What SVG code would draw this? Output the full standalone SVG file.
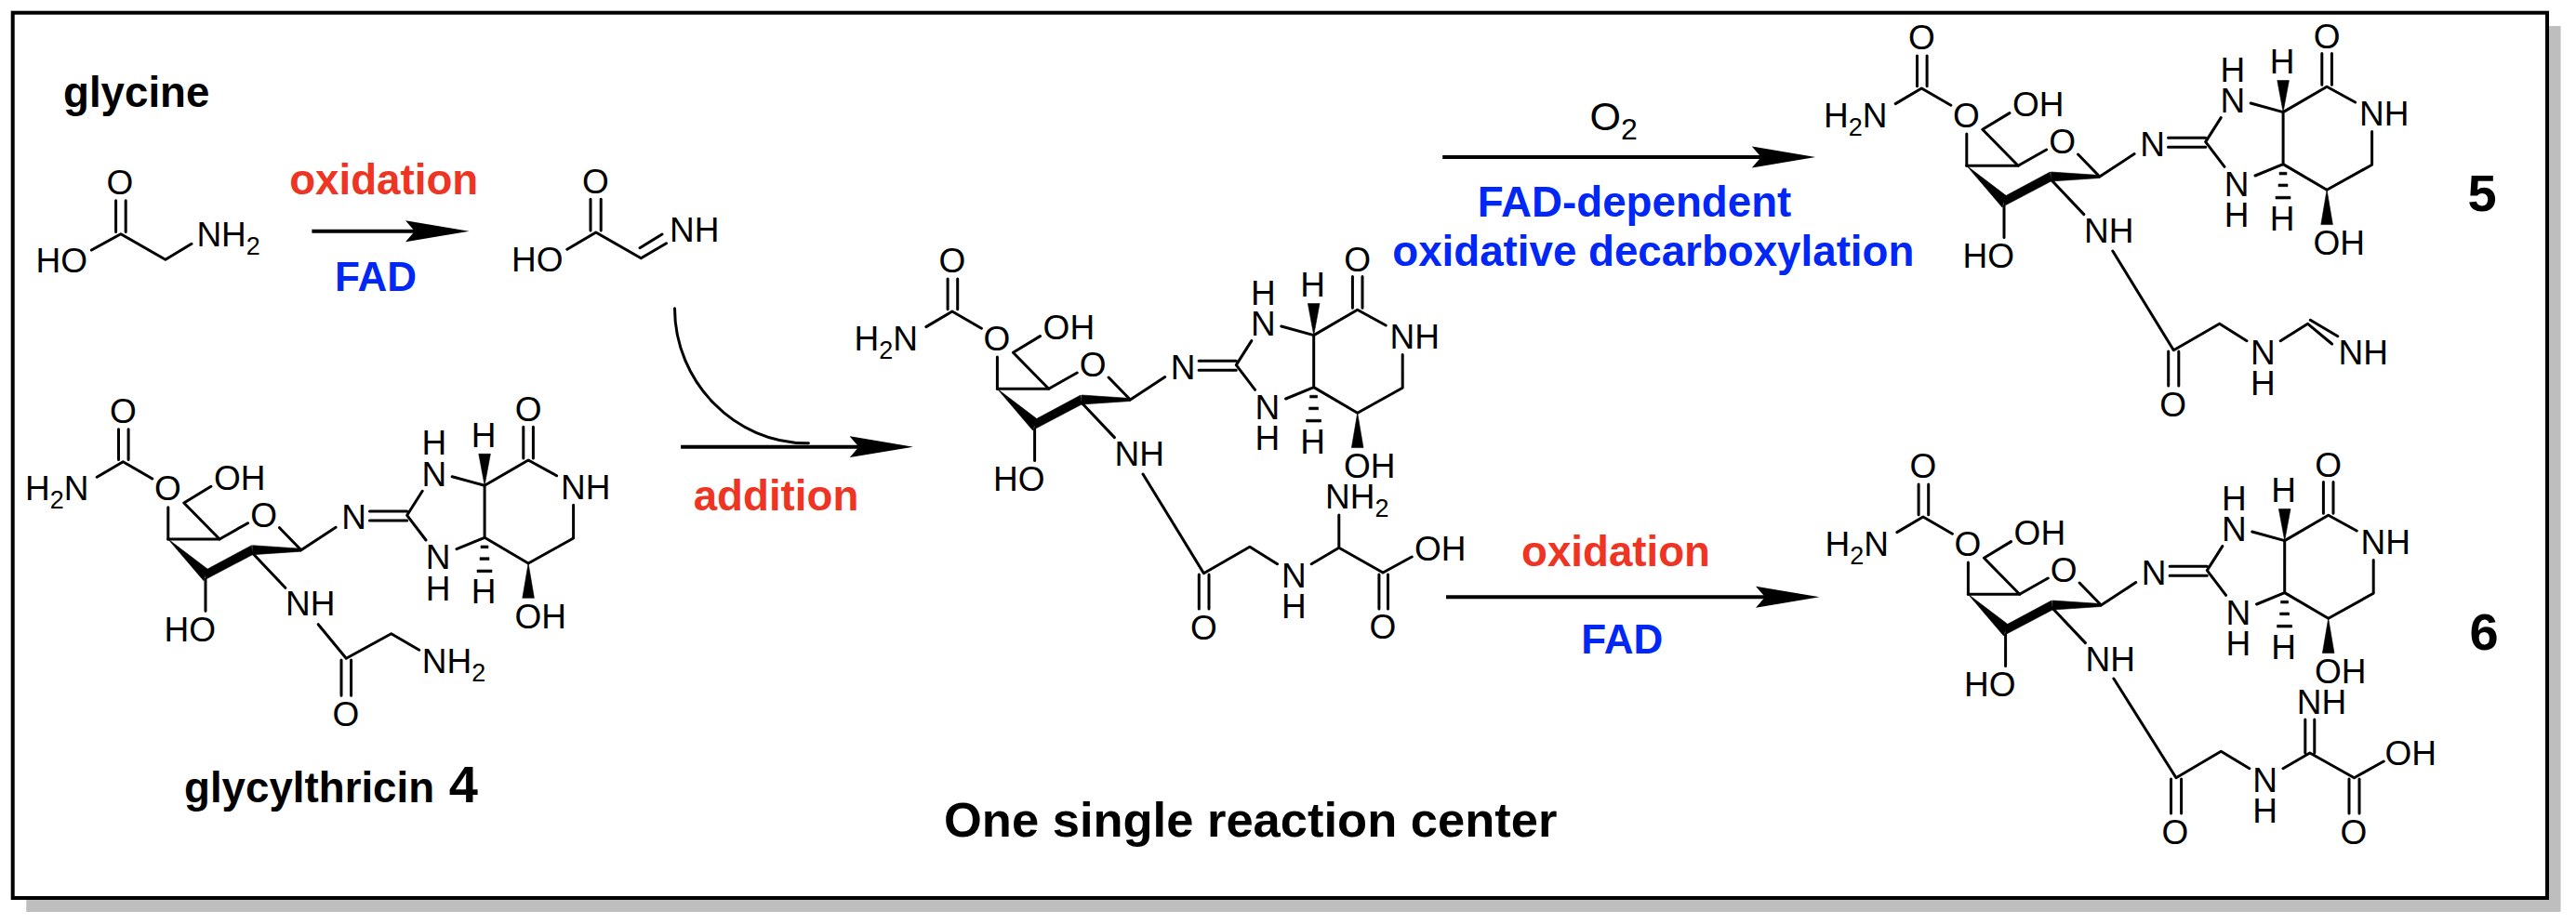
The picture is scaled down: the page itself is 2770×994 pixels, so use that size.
<svg xmlns="http://www.w3.org/2000/svg" xmlns:xlink="http://www.w3.org/1999/xlink" width="2770" height="994" viewBox="0 0 2770 994">
<style>
text{font-family:"Liberation Sans",Arial,sans-serif;fill:#000}
.a{font-size:37px}
.m{text-anchor:middle}
.s{font-size:27px}
.l{font-size:45.700px;font-weight:700}
.f{font-size:44px}
.r{fill:#ee3524}
.u{fill:#0027f5}
.n{font-size:56px;font-weight:700}
.b{fill:none;stroke:#000;stroke-width:3;stroke-linecap:round;stroke-linejoin:round}
.w{fill:#000;stroke:#000;stroke-width:.6;stroke-linejoin:round}
.arrow{fill:none;stroke:#000;stroke-width:4;marker-end:url(#head)}
</style>
<defs>
<marker id="head" markerUnits="userSpaceOnUse" markerWidth="70" markerHeight="24" refX="10" refY="12" orient="auto" viewBox="0 0 70 24">
<path d="M0 .5L10 12L0 23.5L68.500 12Z" fill="#000"/>
</marker>
<g id="core">
<path class="b" d="M127.500 461.700V494.500M138.100 461.700V494.500M104.200 513.300L132.300 496.700L163.800 515M180.800 545.700V580M226.900 523.300L197.800 541L236.100 580L266.600 562.700M300.500 567.700L323.800 591.700L361.100 567.300M221 623.300V657.300M271.500 595L306.800 632.300M397.500 550H437.700M397.500 560H437.700M454.200 528.300L437.700 554.300L458 581M486.200 512.700L521.100 522.300V578.300L491 590.700M521.100 522.300L568.100 495L598.600 511.700M562.800 459.300V493M573.400 459.300V493M616.600 543.300V579L568.100 606L521.100 578.300"/>
<path class="b" d="M180.800 580H236.100" stroke-width="4"/>
<path class="w" d="M323.800 590.200L271.500 586.700V596.700L323.800 593.200ZM221 613.300L270.500 586.700L271.500 596.700L221 623.300ZM180.800 580L223 612L219 624.700ZM521.100 522.300L514.800 488.300H527.400ZM568.100 606L561.800 643.300H574.400ZM517 587H525V589.700H517ZM516 599.700H526V602.400H516ZM513 613H529V615.700H513Z"/>
</g>
</defs>
<rect id="shadow" x="28.300" y="28" width="2725.200" height="953" fill="#bebebe"/>
<rect id="frame" x="13.700" y="13.700" width="2725.300" height="952.300" fill="#fff" stroke="#000" stroke-width="4"/>
<g id="connectors">
<path class="arrow" d="M335.400 248.700H446"/>
<path class="arrow" d="M732.100 480.700H923.500"/>
<path class="arrow" d="M1551.200 169H1893.700"/>
<path class="arrow" d="M1555 642.300H1898"/>
<path class="b" d="M725.500 331.700C725.500 410 790 478 869.400 476.700"/>
</g>
<g id="labels">
<text class="l" x="68" y="115">glycine</text>
<text class="l r m" x="412.700" y="209.300">oxidation</text>
<text class="l u m f" x="404" y="313.300">FAD</text>
<text class="l r m" x="834.500" y="549.300">addition</text>
<text x="1709.500" y="140" style="font-size:43px">O<tspan dy="10" style="font-size:32px">2</tspan></text>
<text class="l u m" x="1757.500" y="232.700">FAD-dependent</text>
<text class="l u m" x="1777.800" y="285.700">oxidative decarboxylation</text>
<text class="l r m" x="1737.500" y="609.300">oxidation</text>
<text class="l u m f" x="1744.300" y="702.700">FAD</text>
<text class="l" x="198" y="863">glycylthricin</text>
<text class="n m" x="498.300" y="863.300">4</text>
<text class="n m" x="2669" y="226.700">5</text>
<text class="n m" x="2671" y="699.300">6</text>
<text x="1015" y="900" style="font-size:52.500px;font-weight:700">One single reaction center</text>
</g>
<g id="glycine-molecule">
<path class="b" d="M124.600 215.700V249.500M135.200 215.700V249.500M98.400 269L129.900 251.700L177.900 279.300L206 262.300"/>
<text class="a m" x="128.900" y="209">O</text>
<text class="a" x="38.500" y="292.700">HO</text>
<text class="a" x="211.400" y="265">NH<tspan class="s" dy="9">2</tspan></text>
</g>
<g id="imine-molecule">
<path class="b" d="M635 214.300V248M646.200 214.300V248M609.800 268.300L640.800 250L689.300 277.700L716.500 261.700M688 266.700L712 252"/>
<text class="a m" x="640.300" y="207.700">O</text>
<text class="a" x="550" y="291.700">HO</text>
<text class="a" x="720" y="260">NH</text>
</g>
<g id="glycylthricin-4">
<use href="#core" xlink:href="#core"/>
<text class="a m" x="132.300" y="455">O</text>
<text class="a" x="27" y="538.300">H<tspan class="s" dy="9">2</tspan><tspan dy="-9">N</tspan></text>
<text class="a m" x="180.300" y="538.300">O</text>
<text class="a" x="230" y="526.700">OH</text>
<text class="a m" x="283.600" y="566.700">O</text>
<text class="a" x="176.500" y="690">HO</text>
<text class="a" x="307" y="662.300">NH</text>
<text class="a m" x="380.500" y="569.300">N</text>
<text class="a m" x="466.800" y="522.700">N</text>
<text class="a m" x="466.800" y="489.300">H</text>
<text class="a m" x="471.200" y="612.300">N</text>
<text class="a m" x="471.200" y="645.700">H</text>
<text class="a m" x="520" y="481">H</text>
<text class="a m" x="520" y="649.300">H</text>
<text class="a m" x="568.100" y="453.300">O</text>
<text class="a" x="603" y="536.700">NH</text>
<text class="a" x="553.400" y="676">OH</text>
<path class="b" d="M342.200 671.700L372.300 708.300L420.700 681.700L450.800 699.300M367 710V748.300M377.600 710V748.300"/>
<text class="a m" x="371.800" y="781">O</text>
<text class="a" x="453.700" y="724.300">NH<tspan class="s" dy="9">2</tspan></text>
</g>
<g id="intermediate">
<g transform="translate(891.600 -161.700)">
<use href="#core" xlink:href="#core"/>
<text class="a m" x="132.300" y="455">O</text>
<text class="a" x="27" y="538.300">H<tspan class="s" dy="9">2</tspan><tspan dy="-9">N</tspan></text>
<text class="a m" x="180.300" y="538.300">O</text>
<text class="a" x="230" y="526.700">OH</text>
<text class="a m" x="283.600" y="566.700">O</text>
<text class="a" x="176.500" y="690">HO</text>
<text class="a" x="307" y="662.300">NH</text>
<text class="a m" x="380.500" y="569.300">N</text>
<text class="a m" x="466.800" y="522.700">N</text>
<text class="a m" x="466.800" y="489.300">H</text>
<text class="a m" x="471.200" y="612.300">N</text>
<text class="a m" x="471.200" y="645.700">H</text>
<text class="a m" x="520" y="481">H</text>
<text class="a m" x="520" y="649.300">H</text>
<text class="a m" x="568.100" y="453.300">O</text>
<text class="a" x="603" y="536.700">NH</text>
<text class="a" x="553.400" y="676">OH</text>
</g>
<path class="b" d="M1229 510L1294.400 616.700L1343.900 588.300L1373.500 606.700M1289.300 618V655M1300 618V655M1410.200 606.700L1439.800 589.300V554M1439.800 589.300L1487.100 616L1518.200 599M1482.900 618V655M1492.500 618V655"/>
<text class="a m" x="1294.400" y="687.700">O</text>
<text class="a m" x="1391.300" y="631.700">N</text>
<text class="a m" x="1391.300" y="665">H</text>
<text class="a" x="1425" y="547.300">NH<tspan class="s" dy="9">2</tspan></text>
<text class="a" x="1521" y="603.300">OH</text>
<text class="a m" x="1487" y="687.300">O</text>
</g>
<g id="product-5">
<g transform="translate(1934 -401.700)">
<use href="#core" xlink:href="#core"/>
<text class="a m" x="132.300" y="455">O</text>
<text class="a" x="27" y="538.300">H<tspan class="s" dy="9">2</tspan><tspan dy="-9">N</tspan></text>
<text class="a m" x="180.300" y="538.300">O</text>
<text class="a" x="230" y="526.700">OH</text>
<text class="a m" x="283.600" y="566.700">O</text>
<text class="a" x="176.500" y="690">HO</text>
<text class="a" x="307" y="662.300">NH</text>
<text class="a m" x="380.500" y="569.300">N</text>
<text class="a m" x="466.800" y="522.700">N</text>
<text class="a m" x="466.800" y="489.300">H</text>
<text class="a m" x="471.200" y="612.300">N</text>
<text class="a m" x="471.200" y="645.700">H</text>
<text class="a m" x="520" y="481">H</text>
<text class="a m" x="520" y="649.300">H</text>
<text class="a m" x="568.100" y="453.300">O</text>
<text class="a" x="603" y="536.700">NH</text>
<text class="a" x="553.400" y="676">OH</text>
</g>
<path class="b" d="M2271.800 270L2337.300 376.700L2386.700 348.300L2416 366.700M2331.700 378V415M2342.800 378V415M2452.200 366.700L2481.600 348.300L2507.600 370M2484.300 344.300L2513.800 361.700"/>
<text class="a m" x="2336.700" y="447.700">O</text>
<text class="a m" x="2433.300" y="391.700">N</text>
<text class="a m" x="2433.300" y="425">H</text>
<text class="a" x="2514.600" y="391.700">NH</text>
</g>
<g id="product-6">
<g transform="translate(1935.600 59.300)">
<use href="#core" xlink:href="#core"/>
<text class="a m" x="132.300" y="455">O</text>
<text class="a" x="27" y="538.300">H<tspan class="s" dy="9">2</tspan><tspan dy="-9">N</tspan></text>
<text class="a m" x="180.300" y="538.300">O</text>
<text class="a" x="230" y="526.700">OH</text>
<text class="a m" x="283.600" y="566.700">O</text>
<text class="a" x="176.500" y="690">HO</text>
<text class="a" x="307" y="662.300">NH</text>
<text class="a m" x="380.500" y="569.300">N</text>
<text class="a m" x="466.800" y="522.700">N</text>
<text class="a m" x="466.800" y="489.300">H</text>
<text class="a m" x="471.200" y="612.300">N</text>
<text class="a m" x="471.200" y="645.700">H</text>
<text class="a m" x="520" y="481">H</text>
<text class="a m" x="520" y="649.300">H</text>
<text class="a m" x="568.100" y="453.300">O</text>
<text class="a" x="603" y="536.700">NH</text>
<text class="a" x="553.400" y="676">OH</text>
</g>
<path class="b" d="M2272.900 730L2340 836.700L2388.300 808.300L2418.900 826.700M2334.500 838V875M2345.600 838V875M2455 826.700L2483.800 810L2531.500 836.700L2563.200 819M2478.800 810V774M2488.800 810V774M2526 838V875M2537 838V875"/>
<text class="a m" x="2339" y="908.300">O</text>
<text class="a m" x="2435.500" y="851.700">N</text>
<text class="a m" x="2435.500" y="885">H</text>
<text class="a" x="2469.700" y="767.700">NH</text>
<text class="a" x="2564.500" y="823.300">OH</text>
<text class="a m" x="2531" y="907.700">O</text>
</g>
</svg>
